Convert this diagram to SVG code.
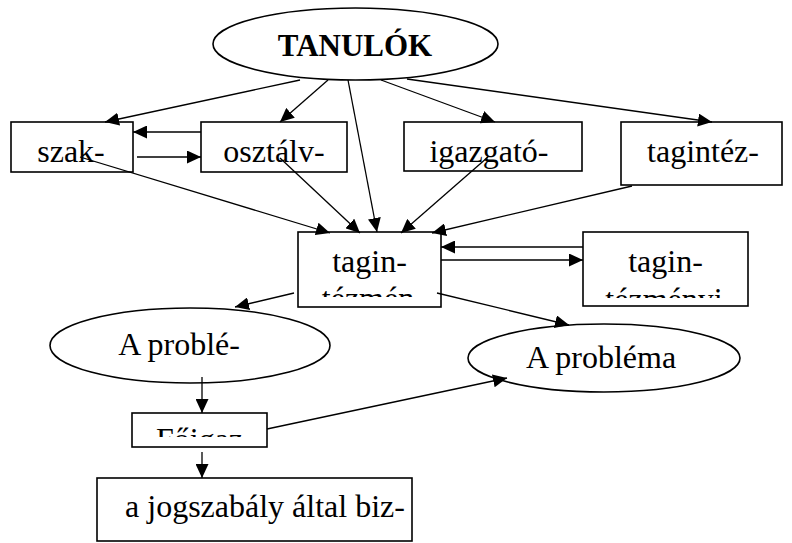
<svg xmlns="http://www.w3.org/2000/svg" width="792" height="543" viewBox="0 0 792 543" font-family="Liberation Serif, Times New Roman, serif">
  <style>
    .shape { fill: #fff; stroke: #000; stroke-width: 1.6; }
    .lbl { font-size: 32px; fill: #000; text-anchor: middle; }
    .title { font-weight: bold; font-size: 31px; }
    .edge { fill: none; stroke: #000; stroke-width: 1.3; marker-end: url(#head); }
  </style>
  <defs>
    <marker id="head" markerUnits="userSpaceOnUse" markerWidth="15" markerHeight="13" refX="14" refY="6.5" orient="auto">
      <path d="M0,0 L14,6.5 L0,13 Z" fill="#000"/>
    </marker>
    <!-- inner text areas of the boxes whose second line overflows -->
    <clipPath id="clipCenter"><rect x="298" y="232" width="143" height="65"/></clipPath>
    <clipPath id="clipRight"><rect x="583" y="232" width="165" height="66"/></clipPath>
    <clipPath id="clipSmall"><rect x="132" y="413" width="135" height="24"/></clipPath>
  </defs>

  <g id="tanulok">
    <ellipse class="shape" cx="355.5" cy="44" rx="142.5" ry="36"/>
    <text class="lbl title" x="355" y="56">TANULÓK</text>
  </g>

  <g id="szak">
    <rect class="shape" x="11" y="122" width="122" height="50"/>
    <text class="lbl" x="71" y="162">szak-</text>
  </g>

  <g id="osztaly">
    <rect class="shape" x="201" y="122" width="146" height="50"/>
    <text class="lbl" x="274" y="162">osztálv-</text>
  </g>

  <g id="igazgato">
    <rect class="shape" x="404" y="122" width="178" height="49"/>
    <text class="lbl" x="489" y="162">igazgató-</text>
  </g>

  <g id="tagintez">
    <rect class="shape" x="621" y="122" width="161" height="63"/>
    <text class="lbl" x="703" y="162">tagintéz-</text>
  </g>

  <g id="tagin-center">
    <rect class="shape" x="298" y="232" width="143" height="75"/>
    <g clip-path="url(#clipCenter)">
      <text class="lbl" x="369.5" y="272">tagin-</text>
      <text class="lbl" x="368" y="309">tézmén</text>
    </g>
  </g>

  <g id="tagin-right">
    <rect class="shape" x="583" y="232" width="165" height="74"/>
    <g clip-path="url(#clipRight)">
      <text class="lbl" x="665.5" y="272">tagin-</text>
      <text class="lbl" x="664" y="310">tézményi</text>
    </g>
  </g>

  <g id="problema-left">
    <ellipse class="shape" cx="190" cy="345.5" rx="140" ry="37.5"/>
    <text class="lbl" x="179" y="355">A problé-</text>
  </g>

  <g id="problema-right">
    <ellipse class="shape" cx="604" cy="358" rx="136" ry="34"/>
    <text class="lbl" x="601" y="368">A probléma</text>
  </g>

  <g id="foigaz">
    <rect class="shape" x="132" y="413" width="135" height="34"/>
    <g clip-path="url(#clipSmall)">
      <text class="lbl" x="199.5" y="450">Főigaz</text>
    </g>
  </g>

  <g id="jogszabaly">
    <rect class="shape" x="97" y="478" width="315" height="63"/>
    <text class="lbl" x="265" y="517">a jogszabály által biz-</text>
  </g>

  <g id="connectors">
    <!-- from TANULÓK -->
    <line class="edge" x1="300" y1="80" x2="105" y2="122"/>
    <line class="edge" x1="328" y1="80" x2="280" y2="122"/>
    <line class="edge" x1="348" y1="80" x2="377" y2="232"/>
    <line class="edge" x1="381" y1="80" x2="495" y2="122"/>
    <line class="edge" x1="407" y1="79" x2="712" y2="122"/>
    <!-- between szak- and osztálv- -->
    <line class="edge" x1="201" y1="132" x2="133" y2="132"/>
    <line class="edge" x1="137" y1="157" x2="201" y2="157"/>
    <!-- into the central box -->
    <line class="edge" x1="80" y1="157" x2="330" y2="233"/>
    <line class="edge" x1="280" y1="158" x2="360" y2="233"/>
    <line class="edge" x1="488" y1="157" x2="401" y2="233"/>
    <line class="edge" x1="632" y1="186" x2="432" y2="233"/>
    <!-- between the two tagin- boxes -->
    <line class="edge" x1="583" y1="247" x2="441" y2="247"/>
    <line class="edge" x1="441" y1="260" x2="583" y2="260"/>
    <!-- out of the central box -->
    <line class="edge" x1="294" y1="293" x2="235" y2="307"/>
    <line class="edge" x1="437" y1="293" x2="569" y2="325"/>
    <!-- lower chain -->
    <line class="edge" x1="202" y1="377" x2="202" y2="413"/>
    <line class="edge" x1="202" y1="452" x2="202" y2="478"/>
    <line class="edge" x1="267" y1="429" x2="507" y2="378"/>
  </g>
</svg>
